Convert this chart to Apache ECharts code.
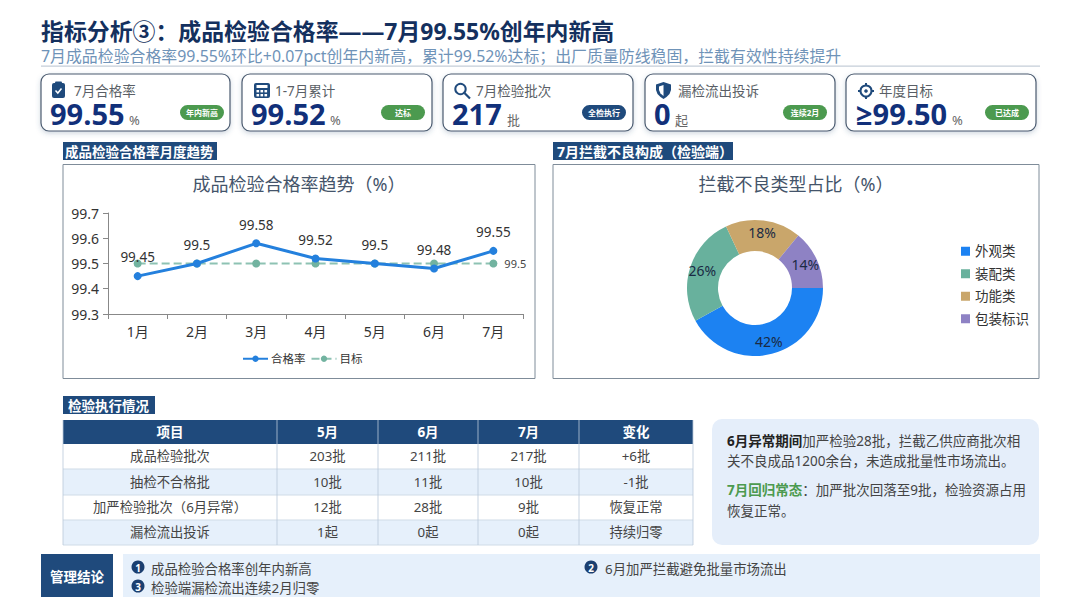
<!DOCTYPE html>
<html><head><meta charset="utf-8">
<style>html,body{margin:0;padding:0;background:#fff}#c{width:1080px;height:608px}</style>
<script src="https://cdn.jsdelivr.net/npm/echarts@6/dist/echarts.min.js"></script>
</head><body><div id="c"></div>
<script>
const months = ['1月','2月','3月','4月','5月','6月','7月'];
const passRate = [99.45,99.5,99.58,99.52,99.5,99.48,99.55];
const target = [99.5,99.5,99.5,99.5,99.5,99.5,99.5];
const defectNames = ['外观类','装配类','功能类','包装标识'];
const defectValues = [42,26,18,14];
const yTicks = {min:99.3,max:99.7,interval:0.1};
const tableHead = ['项目','5月','6月','7月','变化'];
const tableRow1 = ['成品检验批次','203批','211批','217批','+6批'];
const tableRow2 = ['抽检不合格批','10批','11批','10批','-1批'];
const tableRow3 = ['加严检验批次（6月异常）','12批','28批','9批','恢复正常'];
const tableRow4 = ['漏检流出投诉','1起','0起','0起','持续归零'];
const kpiLabels = ['7月合格率','1-7月累计','7月检验批次','漏检流出投诉','年度目标'];
const kpiValues = ['99.55','99.52','217','0','≥99.50'];
const kpiUnits = ['%','%','批','起','%'];
const kpiBadges = ['年内新高','达标','全检执行','连续2月','已达成'];

const FF = '"Noto Sans","Noto Sans CJK SC",sans-serif';
const NAVY = '#1f4a7c';
const g = [];
const rect = (x,y,w,h,fill,o={}) => g.push({type:'rect',silent:true,z:o.z||1,shape:{x,y,width:w,height:h,r:o.r||0},
  style:Object.assign({fill,stroke:o.stroke||null,lineWidth:o.lw||0},o.style||{})});
const text = (x,y,s,o={}) => g.push({type:'text',silent:true,z:o.z||5,x,y,style:Object.assign({text:s,fill:o.color||'#333',
  font:(o.bold?'bold ':'')+(o.size||13)+'px '+(o.family||FF),textAlign:o.align||'left',textVerticalAlign:'middle',textBaseline:'middle'},o.style||{})});

// header
text(41,31,'指标分析③：成品检验合格率——7月99.55%创年内新高',{size:22.9,bold:true,color:'#14305e'});
text(41,56,'7月成品检验合格率99.55%环比+0.07pct创年内新高，累计99.52%达标；出厂质量防线稳固，拦截有效性持续提升',{size:15.9,color:'#6f93b8'});
rect(41,65.5,999,1.2,'#c5ced8');

// KPI cards
const cardX=[41,242,443,645,846], badgeX=[180,381,582,783,985];
const badgeCol=['#4c9a4f','#4c9a4f',NAVY,'#4c9a4f','#4c9a4f'];
const valueW=[74,74,50,16,92], valueDx=[0,0,0,0,1];
kpiLabels.forEach((l,i)=>{
  const x=cardX[i];
  rect(x,74,i==0?189:190,57,'#fff',{r:8,stroke:'#4b5b70',lw:1.2,style:{shadowBlur:5,shadowColor:'rgba(60,90,130,0.25)',shadowOffsetY:2}});
  text(x+33,90.5,l,{size:13.5,color:'#5a5f66'});
  text(x+9+valueDx[i],113.5,kpiValues[i],{size:29,bold:true,color:'#11307a',family:'"Open Sans","Noto Sans",sans-serif'});
  text(x+9+valueW[i]+5,120,kpiUnits[i],{size:13,color:'#666'});
  rect(badgeX[i],105,44,15,badgeCol[i],{r:7.5});
  text(badgeX[i]+22,112.5,kpiBadges[i],{size:8,bold:true,color:'#fff',align:'center'});
});
// icons
const ic='#1f4a7c';
rect(52,83,13,15,ic,{r:2}); rect(55,81.5,7,3,ic,{r:1});
g.push({type:'polyline',silent:true,z:6,shape:{points:[[55.5,90.5],[57.8,93],[61.5,88.5]]},style:{stroke:'#fff',lineWidth:1.5,fill:null}});
rect(254,83,16,15,ic,{r:2}); rect(256.5,85,11,3,'#fff',{z:6});
[[256.5,90],[260.5,90],[264.5,90],[256.5,94],[260.5,94],[264.5,94]].forEach(p=>rect(p[0],p[1],2.6,2.4,'#fff',{z:6}));
g.push({type:'circle',silent:true,z:6,shape:{cx:460.5,cy:89,r:5.2},style:{fill:null,stroke:ic,lineWidth:2}});
g.push({type:'line',silent:true,z:6,shape:{x1:464.5,y1:93,x2:470,y2:98.5},style:{stroke:ic,lineWidth:2.2}});
g.push({type:'polygon',silent:true,z:6,shape:{points:[[663.5,82],[671,84.5],[671,90],[669.5,94],[666.5,97],[663.5,99],[660.5,97],[657.5,94],[656,90],[656,84.5]]},style:{fill:ic}});
g.push({type:'polygon',silent:true,z:7,shape:{points:[[663.5,85],[663.5,96],[660.5,93.5],[659,90],[659,86.5]]},style:{fill:'#fff'}});
g.push({type:'circle',silent:true,z:6,shape:{cx:866,cy:91,r:5.5},style:{fill:null,stroke:ic,lineWidth:2}});
g.push({type:'circle',silent:true,z:6,shape:{cx:866,cy:91,r:1.8},style:{fill:ic}});
[[866,83,866,86],[866,96,866,99],[858,91,861,91],[871,91,874,91]].forEach(p=>g.push({type:'line',silent:true,z:6,shape:{x1:p[0],y1:p[1],x2:p[2],y2:p[3]},style:{stroke:ic,lineWidth:2}}));

// section heads
rect(63,142,154,18,NAVY); text(65,151.5,'成品检验合格率月度趋势',{size:13.5,bold:true,color:'#fff'});
rect(553,142,180,18,NAVY); text(557,151.5,'7月拦截不良构成（检验端）',{size:14,bold:true,color:'#fff'});
rect(63,396,92,18,NAVY); text(68,405.5,'检验执行情况',{size:13.5,bold:true,color:'#fff'});

// chart panels (outline only, so the axes stay visible)
rect(63,164.5,472,214,'transparent',{stroke:'#7f8c99',lw:1,z:0});
rect(553,164.5,486,214,'transparent',{stroke:'#7f8c99',lw:1,z:0});

// table
const colX=[63,277,378,478,579,693], rowY=[420,444,469,495,520,545];
const rows=[tableHead,tableRow1,tableRow2,tableRow3,tableRow4];
rows.forEach((r,ri)=>{
  const y=rowY[ri],h=rowY[ri+1]-y;
  rect(63,y,630,h,ri==0?NAVY:(ri%2?'#fff':'#e6f0fb'));
  r.forEach((c,ci)=>text((colX[ci]+colX[ci+1])/2,y+h/2-.5,c,{size:ri==0?13.5:13.3,bold:ri==0,color:ri==0?'#fff':'#444',align:'center'}));
  if(ri>0) rect(63,y+h-.5,630,1,'#cfdbe8',{z:2});
});
colX.forEach(x=>rect(x-.4,420,.8,125,'#b9c9da',{z:3}));

// note box
rect(712,419,327,126,'#e5eefa',{r:10});
text(727,441,'{b|6月异常期间}加严检验28批，拦截乙供应商批次相',{size:13.5,color:'#444',style:{rich:{b:{fontWeight:'bold',fontSize:13.5,fill:'#222',fontFamily:FF}}}});
text(727,461,'关不良成品1200余台，未造成批量性市场流出。',{size:13.5,color:'#444'});
text(727,490,'{g|7月回归常态}：加严批次回落至9批，检验资源占用',{size:13.5,color:'#444',style:{rich:{g:{fontWeight:'bold',fontSize:13.5,fill:'#4c9a4f',fontFamily:FF}}}});
text(727,511,'恢复正常。',{size:13.5,color:'#444'});

// conclusion
rect(41,554,72,43,NAVY); text(77,576.5,'管理结论',{size:13.5,bold:true,color:'#fff',align:'center'});
rect(123,554,917,43,'#e6f0fb');
[[138,567,'1'],[591,567,'2'],[138,586,'3']].forEach(p=>{
  g.push({type:'circle',silent:true,z:4,shape:{cx:p[0],cy:p[1],r:6.5},style:{fill:'#1b3f70'}});
  text(p[0],p[1]+.5,p[2],{size:10,bold:true,color:'#fff',align:'center',z:6});
});
text(151,569,'成品检验合格率创年内新高',{size:13.4,color:'#444'});
text(605,569,'6月加严拦截避免批量市场流出',{size:13.4,color:'#444'});
text(151,588,'检验端漏检流出连续2月归零',{size:13.4,color:'#444'});

const chart = echarts.init(document.getElementById('c'),null,{renderer:'svg',width:1080,height:608});
const BLUE='#2480dd', GREEN='#72b3a0';
chart.setOption({
  animation:false, backgroundColor:'#fff',
  textStyle:{fontFamily:FF},
  title:[
    {text:'成品检验合格率趋势（%）',left:294,top:170,textAlign:'center',textStyle:{fontSize:18,fontWeight:'normal',color:'#44546a',fontFamily:FF}},
    {text:'拦截不良类型占比（%）',left:791,top:170,textAlign:'center',textStyle:{fontSize:18,fontWeight:'normal',color:'#44546a',fontFamily:FF}}
  ],
  grid:{left:108,top:213,width:415,height:101},
  legend:[
    {left:242,top:353,padding:0,itemWidth:25,itemHeight:8,itemGap:5,data:['合格率','目标'],textStyle:{fontSize:11.5,color:'#333',fontFamily:FF,padding:[0,0,0,-2]}},
    {orient:'vertical',left:961,top:244.5,padding:0,itemWidth:9,itemHeight:9,itemGap:9,icon:'rect',data:defectNames,textStyle:{fontSize:13.5,color:'#333',fontFamily:FF,padding:[0,0,0,0]}}
  ],
  xAxis:{type:'category',data:months,boundaryGap:true,
    axisLine:{lineStyle:{color:'#888'}},axisTick:{show:true,length:5,lineStyle:{color:'#888'}},
    axisLabel:{fontSize:14,color:'#333',margin:10,fontFamily:FF}},
  yAxis:{type:'value',min:yTicks.min,max:yTicks.max,interval:yTicks.interval,
    axisLine:{show:true,lineStyle:{color:'#888'}},axisTick:{show:true,length:5,lineStyle:{color:'#888'}},splitLine:{show:false},
    axisLabel:{fontSize:14,color:'#333',margin:9,fontFamily:FF,formatter:v=>v.toFixed(1)}},
  series:[
    {name:'目标',type:'line',data:target,z:2,symbol:'circle',symbolSize:8,itemStyle:{color:GREEN},
     lineStyle:{color:GREEN,width:2,type:'dashed',opacity:.8},
     label:{show:true,position:'right',distance:7,fontSize:11,color:'#444',fontFamily:FF,
       formatter:p=>p.dataIndex===6?p.value:''}},
    {name:'合格率',type:'line',data:passRate,z:3,symbol:'circle',symbolSize:8,itemStyle:{color:BLUE},
     lineStyle:{color:BLUE,width:3},
     label:{show:true,position:'top',distance:8,fontSize:13.5,color:'#333',fontFamily:FF}},
    {name:'拦截不良',type:'pie',center:[755,288],radius:[37,68],startAngle:0,clockwise:true,
     data:defectNames.map((n,i)=>({name:n,value:defectValues[i]})),
     color:['#1c82f2','#68b19d','#c9a66b','#8e82c4'],
     label:{show:true,position:'inside',formatter:'{c}%',fontSize:14,color:'#1a2a44',fontFamily:FF},
     labelLine:{show:false}}
  ],
  graphic:{elements:g}
});
</script></body></html>
